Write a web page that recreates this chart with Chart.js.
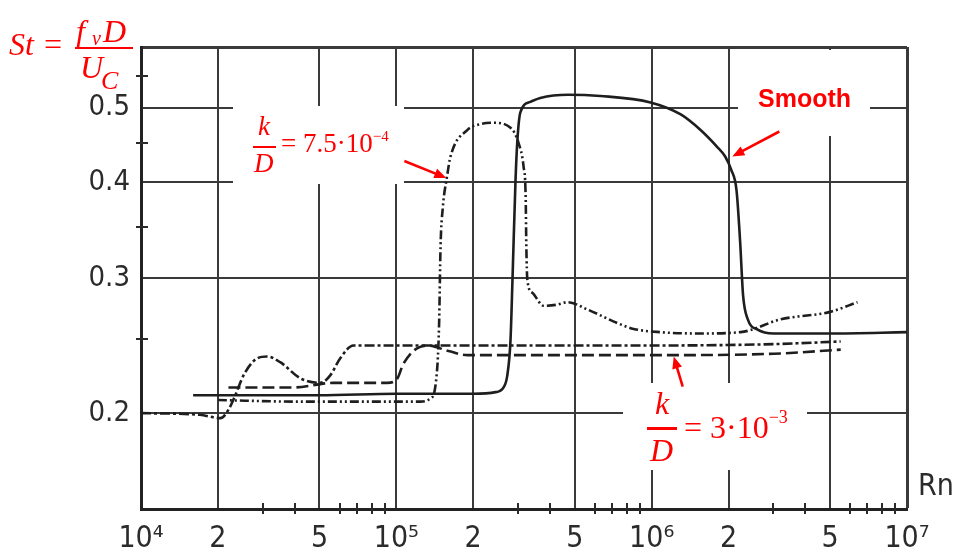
<!DOCTYPE html>
<html><head><meta charset="utf-8">
<script src="https://cdn.jsdelivr.net/npm/chart.js@4.4.1/dist/chart.umd.min.js"></script>
<style>
html,body{margin:0;padding:0;background:#fff;}
#wrap{position:relative;width:957px;height:553px;overflow:hidden;background:#fff;}
canvas{position:absolute;left:0;top:0;}
.ann{position:absolute;color:#ff0000;font-family:'Liberation Serif','Times New Roman',serif;line-height:1;white-space:nowrap;}
.it{font-style:italic;}
.bar{position:absolute;background:#ff0000;}
.axl{position:absolute;font-family:'Liberation Sans Narrow','DejaVu Sans Condensed','Liberation Sans',sans-serif;color:#2b2b2b;line-height:1;white-space:nowrap;}
</style></head>
<body><div id="wrap"><canvas id="c" width="957" height="553"></canvas>
<div class="ann it" style="left:9px;top:28px;font-size:32px;">St =</div>
<div class="ann it" style="left:76px;top:15px;font-size:32px;">f</div>
<div class="ann it" style="left:92px;top:28px;font-size:20px;">v</div>
<div class="ann it" style="left:103px;top:15px;font-size:32px;">D</div>
<div class="bar" style="left:75px;top:47px;width:58px;height:2px;"></div>
<div class="ann it" style="left:80px;top:51px;font-size:32px;">U</div>
<div class="ann it" style="left:101px;top:68px;font-size:26px;">C</div>

<div class="ann it" style="left:258px;top:113px;font-size:27px;">k</div>
<div class="bar" style="left:253px;top:146px;width:23px;height:2px;"></div>
<div class="ann it" style="left:254px;top:150px;font-size:27px;">D</div>
<div class="ann" style="left:281px;top:130px;font-size:27px;">= 7.5·10<span style="font-size:15px;position:relative;top:-11px;">−4</span></div>

<div class="ann it" style="left:655px;top:387px;font-size:32px;">k</div>
<div class="bar" style="left:647px;top:427px;width:30px;height:2.5px;"></div>
<div class="ann it" style="left:650px;top:434px;font-size:32px;">D</div>
<div class="ann" style="left:684px;top:411px;font-size:32px;">= 3·10<span style="font-size:18px;position:relative;top:-15px;">−3</span></div>

<div class="ann" style="left:758px;top:86px;font-size:25px;font-family:'Liberation Sans',Arial,sans-serif;font-weight:bold;">Smooth</div>
<div class="axl" style="left:918px;top:470px;font-size:30px;">Rn</div>
</div>
<script>
// ---- data ----
const smoothRe = [1.6e4, 5e4, 1e5, 2e5, 2.45e5, 2.63e5, 2.72e5, 2.8e5, 2.85e5, 2.93e5, 2.98e5, 3.06e5, 3.35e5, 3.66e5, 4.7e5, 6.3e5, 9.9e5, 1.3e6, 1.55e6, 1.8e6, 1.94e6, 2.05e6, 2.15e6, 2.22e6, 2.28e6, 2.38e6, 2.6e6, 3.0e6, 5e6, 1e7];
const smoothSt = [0.211, 0.211, 0.212, 0.212, 0.213, 0.216, 0.224, 0.249, 0.298, 0.403, 0.454, 0.493, 0.509, 0.515, 0.520, 0.518, 0.508, 0.490, 0.468, 0.445, 0.432, 0.415, 0.390, 0.335, 0.285, 0.265, 0.257, 0.254, 0.254, 0.255];

const kd75Re = [2.0e4, 4.3e4, 1.0e5, 1.24e5, 1.36e5, 1.43e5, 1.47e5, 1.49e5, 1.52e5, 1.58e5, 1.63e5, 1.9e5, 2.13e5, 2.4e5, 2.8e5, 3.01e5, 3.15e5, 3.21e5, 3.23e5, 3.26e5, 3.41e5, 3.77e5, 4.28e5, 4.68e5, 5.6e5, 7.35e5, 8.5e5, 1.08e6, 1.55e6, 2.23e6, 3.2e6, 5.0e6, 6.4e6];
const kd75St = [0.208, 0.207, 0.207, 0.207, 0.209, 0.220, 0.260, 0.330, 0.370, 0.407, 0.432, 0.468, 0.476, 0.478, 0.471, 0.450, 0.419, 0.383, 0.329, 0.298, 0.287, 0.276, 0.277, 0.279, 0.273, 0.262, 0.2575, 0.255, 0.254, 0.255, 0.265, 0.271, 0.279];

const kd300Re = [2.2e4, 3.95e4, 5.66e4, 9.2e4, 1.01e5, 1.06e5, 1.15e5, 1.24e5, 1.33e5, 1.6e5, 1.9e5, 5e5, 1e6, 3e6, 5.5e6];
const kd300St = [0.216, 0.216, 0.219, 0.219, 0.222, 0.231, 0.240, 0.244, 0.245, 0.241, 0.238, 0.238, 0.238, 0.239, 0.242];

const roughRe = [1e4, 1.7e4, 2.05e4, 2.2e4, 2.34e4, 2.52e4, 2.81e4, 3.12e4, 3.51e4, 4.21e4, 5.04e4, 5.51e4, 6.04e4, 6.79e4, 8.65e4, 1.24e5, 5e5, 1e6, 3e6, 5.5e6];
const roughSt = [0.200, 0.199, 0.197, 0.202, 0.211, 0.224, 0.235, 0.237, 0.233, 0.222, 0.219, 0.224, 0.236, 0.245, 0.245, 0.245, 0.245, 0.245, 0.246, 0.248];

const xTickValues = [1e4, 2e4, 5e4, 1e5, 2e5, 5e5, 1e6, 2e6, 5e6, 1e7];
const xTickLabels = ['10⁴', '2', '5', '10⁵', '2', '5', '10⁶', '2', '5', '10⁷'];
const xMinorTicks = [3e4, 4e4, 6e4, 7e4, 8e4, 9e4, 3e5, 4e5, 6e5, 7e5, 8e5, 9e5, 3e6, 4e6, 6e6, 7e6, 8e6, 9e6];
const yTickValues = [0.2, 0.3, 0.4, 0.5, 0.6];
const yTickLabels = ['0.2', '0.3', '0.4', '0.5', ''];
const yMinorTicks = [0.25, 0.35, 0.45, 0.55];

// ---- chart ----
function pts(xs, ys) { return xs.map((x, i) => ({ x: x, y: ys[i] })); }
const ink = '#1e1e1e';
const lineBase = { borderColor: ink, borderWidth: 2.6, pointRadius: 0, fill: false, cubicInterpolationMode: 'monotone' };

const datasets = [
  Object.assign({ label: 'Smooth', data: pts(smoothRe, smoothSt) }, lineBase),
  Object.assign({ label: 'k/D = 7.5·10⁻⁴', data: pts(kd75Re, kd75St), borderDash: [9, 3, 2, 3, 2, 3] }, lineBase),
  Object.assign({ label: 'k/D = 3·10⁻³', data: pts(kd300Re, kd300St), borderDash: [12, 5] }, lineBase),
  Object.assign({ label: 'rough (dash-dot)', data: pts(roughRe, roughSt), borderDash: [10, 3, 3, 3] }, lineBase)
];

const tickFont = { family: "'Liberation Sans Narrow','DejaVu Sans Condensed','Liberation Sans',sans-serif", size: 30 };

const decor = {
  id: 'decor',
  beforeDatasetsDraw(chart) {
    const ctx = chart.ctx, a = chart.chartArea, xs = chart.scales.x, ys = chart.scales.y;
    ctx.save();
    // white label backgrounds (as in the reference)
    ctx.fillStyle = '#ffffff';
    const boxes = [[233, 106, 404, 184], [623, 383, 807, 470], [738, 50, 870, 136]];
    boxes.forEach(b => ctx.fillRect(b[0], b[1], b[2] - b[0], b[3] - b[1]));
    // minor ticks crossing the axes
    ctx.strokeStyle = '#2a2a2a';
    ctx.lineWidth = 2;
    ctx.beginPath();
    xMinorTicks.forEach(v => {
      const px = Math.round(xs.getPixelForValue(v));
      ctx.moveTo(px, a.bottom - 6); ctx.lineTo(px, a.bottom + 5);
    });
    yMinorTicks.forEach(v => {
      const py = Math.round(ys.getPixelForValue(v));
      ctx.moveTo(a.left - 5, py); ctx.lineTo(a.left + 7, py);
    });
    ctx.stroke();
    ctx.restore();
  },
  afterDatasetsDraw(chart) {
    const ctx = chart.ctx, xs = chart.scales.x, ys = chart.scales.y;
    const arrows = [
      { re: 1.57e5, st: 0.405, dx: -42, dy: -17 },
      { re: 2.07e6, st: 0.432, dx: 47, dy: -25 },
      { re: 1.22e6, st: 0.237, dx: 9, dy: 30 }
    ];
    ctx.save();
    ctx.strokeStyle = '#ff0000';
    ctx.fillStyle = '#ff0000';
    ctx.lineWidth = 2.6;
    arrows.forEach(ar => {
      const x1 = xs.getPixelForValue(ar.re), y1 = ys.getPixelForValue(ar.st);
      const x0 = x1 + ar.dx, y0 = y1 + ar.dy;
      const ang = Math.atan2(y1 - y0, x1 - x0), L = 12, W = 5;
      ctx.beginPath();
      ctx.moveTo(x0, y0);
      ctx.lineTo(x1 - L * 0.8 * Math.cos(ang), y1 - L * 0.8 * Math.sin(ang));
      ctx.stroke();
      ctx.beginPath();
      ctx.moveTo(x1, y1);
      ctx.lineTo(x1 - L * Math.cos(ang) + W * Math.sin(ang), y1 - L * Math.sin(ang) - W * Math.cos(ang));
      ctx.lineTo(x1 - L * Math.cos(ang) - W * Math.sin(ang), y1 - L * Math.sin(ang) + W * Math.cos(ang));
      ctx.closePath();
      ctx.fill();
    });
    ctx.restore();
  }
};

new Chart(document.getElementById('c'), {
  type: 'line',
  data: { datasets: datasets },
  options: {
    responsive: false,
    animation: false,
    devicePixelRatio: 1,
    layout: { padding: { left: 0, top: 47, right: 50, bottom: 0 } },
    plugins: { legend: { display: false }, tooltip: { enabled: false } },
    scales: {
      x: {
        type: 'logarithmic', min: 1e4, max: 1e7,
        afterBuildTicks: s => { s.ticks = xTickValues.map(v => ({ value: v })); },
        afterFit: s => { s.height = 44; },
        ticks: {
          autoSkip: false, maxRotation: 0, minRotation: 0, padding: 12,
          color: '#2b2b2b', font: tickFont,
          callback: (v, i) => xTickLabels[i]
        },
        grid: {
          color: '#3a3a3a', drawTicks: false,
          lineWidth: c => (c.tick && c.tick.value === 1e7) ? 3 : 2
        },
        border: { color: '#222', width: 3 }
      },
      y: {
        type: 'logarithmic', min: 0.15, max: 0.6,
        afterBuildTicks: s => { s.ticks = yTickValues.map(v => ({ value: v })); },
        afterFit: s => { s.width = 141; },
        ticks: {
          autoSkip: false, padding: 11,
          color: '#2b2b2b', font: { family: tickFont.family, size: 29 },
          callback: (v, i) => yTickLabels[i]
        },
        grid: {
          color: '#3a3a3a', drawTicks: false,
          lineWidth: c => (c.tick && c.tick.value === 0.6) ? 3 : 2
        },
        border: { color: '#222', width: 3 }
      }
    }
  },
  plugins: [decor]
});
</script>
</body></html>
